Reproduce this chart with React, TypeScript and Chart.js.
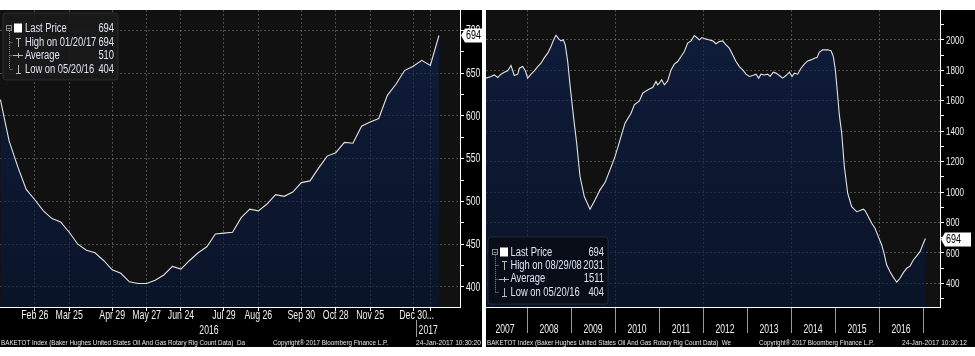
import React, { useEffect, useRef } from "react";
import { Chart, registerables } from "chart.js";

Chart.register(...registerables);

const FONT = '"Liberation Sans", Arial, sans-serif';
const TXT = "#f0f0f0";
const LEGEND_TXT = "#dde4f2";
const GRID = "rgba(150,150,150,0.45)";
const LINE = "#e2e2e2";

// ---------------- Left panel: weekly rig count, last year ----------------
const leftDates = [
  "2016-01-29", "2016-02-05", "2016-02-12", "2016-02-19", "2016-02-26",
  "2016-03-04", "2016-03-11", "2016-03-18", "2016-03-25",
  "2016-04-01", "2016-04-08", "2016-04-15", "2016-04-22", "2016-04-29",
  "2016-05-06", "2016-05-13", "2016-05-20", "2016-05-27",
  "2016-06-03", "2016-06-10", "2016-06-17", "2016-06-24",
  "2016-07-01", "2016-07-08", "2016-07-15", "2016-07-22", "2016-07-29",
  "2016-08-05", "2016-08-12", "2016-08-19", "2016-08-26",
  "2016-09-02", "2016-09-09", "2016-09-16", "2016-09-23", "2016-09-30",
  "2016-10-07", "2016-10-14", "2016-10-21", "2016-10-28",
  "2016-11-04", "2016-11-11", "2016-11-18", "2016-11-25",
  "2016-12-02", "2016-12-09", "2016-12-16", "2016-12-23", "2016-12-30",
  "2017-01-06", "2017-01-13", "2017-01-20",
];
const leftValues = [
  619, 571, 541, 514, 502,
  489, 480, 476, 464,
  450, 443, 440, 431, 420,
  416, 406, 404, 404,
  408, 414, 424, 421,
  431, 440, 447, 462, 463,
  464, 481, 491, 489,
  497, 508, 506, 511, 522,
  524, 539, 553, 557,
  569, 568, 588, 593,
  597, 624, 637, 653, 658,
  665, 659, 694,
];
const leftTickDates = [
  "2016-02-26", "2016-03-25", "2016-04-29", "2016-05-27", "2016-06-24", "2016-07-29",
  "2016-08-26", "2016-09-30", "2016-10-28", "2016-11-25", "2016-12-30", "2017-01-13",
];
const leftTickLabels = [
  "Feb 26", "Mar 25", "Apr 29", "May 27", "Jun 24", "Jul 29",
  "Aug 26", "Sep 30", "Oct 28", "Nov 25", "Dec 30", "...",
];
const leftYTicks = [400, 425, 450, 475, 500, 525, 550, 575, 600, 625, 650, 675, 700];
const leftYLabels = [400, 450, 500, 550, 600, 650, 700];
const leftLegend = [
  ["Last Price", "694"],
  ["High on 01/20/17", "694"],
  ["Average", "510"],
  ["Low on 05/20/16", "404"],
];
const leftFooter = [
  "BAKETOT Index (Baker Hughes United States Oil And Gas Rotary Rig Count Data)  Da",
  "Copyright\u00ae 2017 Bloomberg Finance L.P.",
  "24-Jan-2017 10:30:20",
];

// ---------------- Right panel: 10-year history ----------------
const rightYears = [
  2007.068, 2007.182, 2007.257, 2007.334, 2007.409, 2007.484, 2007.561, 2007.636, 2007.711, 2007.789,
  2007.825, 2007.902, 2007.962, 2008.015, 2008.091, 2008.166, 2008.243, 2008.318, 2008.394, 2008.47,
  2008.545, 2008.606, 2008.659, 2008.72, 2008.773, 2008.825, 2008.87, 2008.925, 2008.977, 2009.052,
  2009.129, 2009.205, 2009.302, 2009.432, 2009.545, 2009.659, 2009.773, 2009.886, 2010.0, 2010.114,
  2010.227, 2010.364, 2010.439, 2010.553, 2010.629, 2010.705, 2010.78, 2010.856, 2010.932, 2010.97,
  2011.007, 2011.061, 2011.121, 2011.197, 2011.273, 2011.348, 2011.424, 2011.5, 2011.576, 2011.652,
  2011.727, 2011.803, 2011.856, 2011.916, 2011.977, 2012.053, 2012.129, 2012.22, 2012.295, 2012.371,
  2012.447, 2012.523, 2012.598, 2012.674, 2012.75, 2012.826, 2012.902, 2012.977, 2013.053, 2013.129,
  2013.205, 2013.265, 2013.318, 2013.394, 2013.47, 2013.523, 2013.598, 2013.659, 2013.735, 2013.811,
  2013.886, 2013.962, 2014.023, 2014.076, 2014.152, 2014.227, 2014.303, 2014.379, 2014.455, 2014.53,
  2014.591, 2014.644, 2014.72, 2014.833, 2014.909, 2014.962, 2015.008, 2015.053, 2015.098, 2015.152,
  2015.212, 2015.288, 2015.379, 2015.492, 2015.568, 2015.644, 2015.682, 2015.758, 2015.834, 2015.909,
  2015.984, 2016.061, 2016.114, 2016.175, 2016.25, 2016.326, 2016.402, 2016.477, 2016.553, 2016.63,
  2016.705, 2016.78, 2016.856, 2016.932, 2017.008, 2017.055,
];
const rightValues = [
  1749, 1760, 1770, 1753, 1775, 1788, 1797, 1832, 1766, 1775,
  1814, 1825, 1797, 1749, 1775, 1797, 1825, 1847, 1884, 1913,
  1957, 2001, 2031, 2007, 1994, 2001, 1968, 1858, 1705, 1507,
  1321, 1102, 970, 887, 948, 1014, 1062, 1146, 1233, 1343,
  1453, 1518, 1573, 1599, 1650, 1665, 1678, 1687, 1727, 1705,
  1716, 1738, 1705, 1731, 1803, 1841, 1858, 1891, 1924, 1979,
  1994, 2029, 2016, 2001, 2016, 2007, 2001, 1994, 1975, 1990,
  1994, 1968, 1946, 1902, 1858, 1825, 1803, 1775, 1760, 1766,
  1775, 1749, 1775, 1770, 1775, 1760, 1788, 1782, 1766, 1749,
  1766, 1788, 1760, 1782, 1775, 1814, 1841, 1862, 1869, 1880,
  1884, 1920, 1935, 1935, 1929, 1891, 1803, 1660, 1507, 1387,
  1168, 992, 904, 871, 878, 887, 878, 838, 795, 762,
  707, 652, 597, 520, 476, 439, 407, 433, 470, 499,
  513, 553, 580, 608, 663, 694,
];
const rightYearLabels = ["2007", "2008", "2009", "2010", "2011", "2012", "2013", "2014", "2015", "2016"];
const rightYTicks = [300, 400, 500, 600, 700, 800, 900, 1000, 1100, 1200, 1300, 1400, 1500, 1600, 1700, 1800, 1900, 2000, 2100];
const rightYLabels = [400, 600, 800, 1000, 1200, 1400, 1600, 1800, 2000];
const rightLegend = [
  ["Last Price", "694"],
  ["High on 08/29/08", "2031"],
  ["Average", "1511"],
  ["Low on 05/20/16", "404"],
];
const rightFooter = [
  "BAKETOT Index (Baker Hughes United States Oil And Gas Rotary Rig Count Data)  We",
  "Copyright\u00ae 2017 Bloomberg Finance L.P.",
  "24-Jan-2017 10:30:12",
];

// ---------------- drawing helpers ----------------
function navyFill(c: any) {
  const { ctx, chartArea } = c.chart;
  if (!chartArea) return "rgba(14,35,82,0.6)";
  const g = ctx.createLinearGradient(0, chartArea.top, 0, chartArea.bottom);
  g.addColorStop(0, "rgba(14,36,84,0.62)");
  g.addColorStop(1, "rgba(6,22,56,0.6)");
  return g;
}

// narrow (horizontally compressed) text, like the terminal font
function drawText(
  ctx: CanvasRenderingContext2D,
  text: string,
  x: number,
  y: number,
  align: CanvasTextAlign,
  sx = 0.8
) {
  ctx.save();
  ctx.translate(x, y);
  ctx.scale(sx, 1);
  ctx.textAlign = align;
  ctx.fillText(text, 0, 0);
  ctx.restore();
}

function fitText(ctx: CanvasRenderingContext2D, text: string, x: number, y: number, w: number) {
  const nat = ctx.measureText(text).width || 1;
  drawText(ctx, text, x, y, "left", w / nat);
}

type LegendBox = {
  x: number; y: number; w: number; h: number; bg: string;
  y0: number; gap: number; sx: number; tx: number; vx: number;
};

function drawLegend(ctx: CanvasRenderingContext2D, rows: string[][], b: LegendBox) {
  ctx.save();
  ctx.fillStyle = b.bg;
  ctx.beginPath();
  (ctx as any).roundRect(b.x, b.y, b.w, b.h, 3);
  ctx.fill();
  ctx.strokeStyle = "rgba(90,90,90,0.35)";
  ctx.lineWidth = 1;
  ctx.stroke();

  const rowY = (i: number) => b.y0 + i * b.gap;
  const sx = b.sx;
  ctx.strokeStyle = "#8a8a8a";
  ctx.lineWidth = 1;
  ctx.strokeRect(sx - 7.5, Math.round(rowY(0)) - 2.5, 5, 5);
  ctx.beginPath();
  ctx.moveTo(sx - 6.5, Math.round(rowY(0)) + 0.5);
  ctx.lineTo(sx - 3.5, Math.round(rowY(0)) + 0.5);
  ctx.stroke();
  ctx.setLineDash([1, 1]);
  ctx.beginPath();
  ctx.moveTo(sx - 4.5, rowY(0) + 3);
  ctx.lineTo(sx - 4.5, rowY(3));
  for (let i = 1; i < 4; i++) {
    ctx.moveTo(sx - 4.5, Math.round(rowY(i)) + 0.5);
    ctx.lineTo(sx - 1, Math.round(rowY(i)) + 0.5);
  }
  ctx.stroke();
  ctx.setLineDash([]);
  ctx.fillStyle = "#ffffff";
  ctx.fillRect(sx, Math.round(rowY(0)) - 4.5, 8, 9);
  ctx.strokeStyle = "#b8b8b8";
  const cx = sx + 4.5;
  let ry = Math.round(rowY(1));
  ctx.beginPath();
  ctx.moveTo(cx, ry - 4); ctx.lineTo(cx, ry + 5);
  ctx.moveTo(cx - 2.5, ry - 3.5); ctx.lineTo(cx + 2.5, ry - 3.5);
  ry = Math.round(rowY(2));
  ctx.moveTo(sx - 1, ry + 0.5); ctx.lineTo(sx + 9, ry + 0.5);
  ctx.moveTo(cx, ry - 2); ctx.lineTo(cx, ry + 3);
  ry = Math.round(rowY(3));
  ctx.moveTo(cx, ry - 4); ctx.lineTo(cx, ry + 4);
  ctx.moveTo(cx - 2.5, ry + 4.5); ctx.lineTo(cx + 2.5, ry + 4.5);
  ctx.stroke();
  ctx.font = `12px ${FONT}`;
  ctx.textBaseline = "middle";
  ctx.fillStyle = LEGEND_TXT;
  rows.forEach((r, i) => {
    drawText(ctx, r[0], b.tx, rowY(i) + 0.5, "left", 0.78);
    drawText(ctx, r[1], b.vx, rowY(i) + 0.5, "right", 0.78);
  });
  ctx.restore();
}

function drawTag(ctx: CanvasRenderingContext2D, text: string, x0: number, x1: number, yc: number) {
  ctx.save();
  ctx.fillStyle = "#ffffff";
  ctx.beginPath();
  ctx.moveTo(x0, yc);
  ctx.lineTo(x0 + 4, yc - 7);
  ctx.lineTo(x1, yc - 7);
  ctx.lineTo(x1, yc + 7);
  ctx.lineTo(x0 + 4, yc + 7);
  ctx.closePath();
  ctx.fill();
  ctx.fillStyle = "#000";
  ctx.font = `12px ${FONT}`;
  ctx.textBaseline = "middle";
  drawText(ctx, text, x0 + 5, yc + 0.5, "left", 0.75);
  ctx.restore();
}

function drawFooter(ctx: CanvasRenderingContext2D, f: string[]) {
  ctx.save();
  ctx.fillStyle = "#e6e6e6";
  ctx.font = `8px ${FONT}`;
  ctx.textBaseline = "middle";
  fitText(ctx, f[0], 1, 333, 244);
  fitText(ctx, f[1], 273, 333, 115);
  fitText(ctx, f[2], 416, 333, 65);
  ctx.restore();
}

function drawYLabels(ctx: CanvasRenderingContext2D, ys: any, a: any, labels: number[], size: number, sx: number) {
  ctx.save();
  ctx.fillStyle = TXT;
  ctx.font = `${size}px ${FONT}`;
  ctx.textBaseline = "middle";
  labels.forEach((v) => {
    drawText(ctx, String(v), a.right + 6, ys.getPixelForValue(v) + 0.5, "left", sx);
  });
  ctx.restore();
}

function makePlugin(kind: "left" | "right") {
  return {
    id: "bbg-" + kind,
    beforeDraw(chart: any) {
      const { ctx, chartArea: a, width, height } = chart;
      ctx.save();
      ctx.fillStyle = "#000";
      ctx.fillRect(0, 0, width, height);
      ctx.fillStyle = "#111111";
      ctx.fillRect(a.left, a.top, a.right - a.left, a.bottom - a.top);
      ctx.restore();
    },
    afterDraw(chart: any) {
      const ctx = chart.ctx as CanvasRenderingContext2D;
      const xs = chart.scales.x;
      const ys = chart.scales.y;
      const a = chart.chartArea;
      const data = chart.data.datasets[0].data;
      const last = data[data.length - 1].y;
      const yc = Math.round(ys.getPixelForValue(last)) + 0.5;
      ctx.save();
      ctx.fillStyle = TXT;
      ctx.font = `12px ${FONT}`;
      ctx.textBaseline = "middle";
      if (kind === "left") {
        drawYLabels(ctx, ys, a, leftYLabels, 12, 0.72);
        // first row of the date axis
        ctx.font = `12.5px ${FONT}`;
        leftTickDates.forEach((d, i) => {
          const idx = leftDates.indexOf(d);
          drawText(ctx, leftTickLabels[i], xs.getPixelForValue(idx), a.bottom + 8.5, "center", 0.7);
        });
        // second row: years
        const bIdx = leftDates.findIndex((d) => d.startsWith("2017"));
        const boundary = bIdx - 0.5;
        const xb = Math.round(xs.getPixelForValue(boundary)) - 0.5;
        ctx.strokeStyle = "#9a9a9a";
        ctx.beginPath();
        ctx.moveTo(xb, a.bottom + 13);
        ctx.lineTo(xb, a.bottom + 30);
        ctx.stroke();
        ctx.font = `12px ${FONT}`;
        drawText(ctx, "2016", xs.getPixelForValue(boundary / 2), a.bottom + 23.5, "center", 0.72);
        drawText(ctx, "2017", xs.getPixelForValue((boundary + leftDates.length - 1) / 2), a.bottom + 23.5, "center", 0.72);
        ctx.restore();
        drawLegend(ctx, leftLegend, { x: 3, y: 3, w: 115, h: 67, bg: "rgba(26,26,26,0.92)", y0: 18, gap: 13.7, sx: 14, tx: 25, vx: 114 });
        drawTag(ctx, String(last), a.right + 1, chart.width, yc);
      } else {
        drawYLabels(ctx, ys, a, rightYLabels, 11.5, 0.7);
        rightYearLabels.forEach((y) => {
          drawText(ctx, y, xs.getPixelForValue(Number(y) + 0.5), a.bottom + 22.5, "center", 0.72);
        });
        ctx.restore();
        drawLegend(ctx, rightLegend, { x: 2, y: 227, w: 120, h: 67, bg: "rgba(8,12,22,0.9)", y0: 241.7, gap: 13.4, sx: 14, tx: 24.5, vx: 118 });
        drawTag(ctx, String(last), a.right + 1, chart.width - 4, yc);
      }
      drawFooter(ctx, kind === "left" ? leftFooter : rightFooter);
    },
  };
}

function leftConfig(): any {
  const tickIdx = leftTickDates.map((d) => leftDates.indexOf(d));
  return {
    type: "line",
    data: {
      datasets: [
        {
          data: leftValues.map((v, i) => ({ x: i, y: v })),
          borderColor: LINE,
          borderWidth: 1.1,
          pointRadius: 0,
          fill: "start",
          backgroundColor: navyFill,
          tension: 0,
        },
      ],
    },
    options: {
      animation: false,
      responsive: false,
      devicePixelRatio: 1,
      events: [],
      layout: { padding: 0 },
      plugins: { legend: { display: false }, tooltip: { enabled: false } },
      scales: {
        x: {
          type: "linear",
          position: "bottom",
          min: -0.05,
          max: 53.45,
          afterBuildTicks: (s: any) => {
            s.ticks = tickIdx.map((v) => ({ value: v }));
          },
          afterFit: (s: any) => {
            s.height = 40;
            s.paddingLeft = 0;
            s.paddingRight = 0;
          },
          ticks: { display: false, autoSkip: false },
          grid: { color: GRID, tickColor: "#ffffff", tickLength: 4, lineWidth: 1 },
          border: { color: "#ffffff", width: 1, dash: [2, 2] },
        },
        y: {
          position: "right",
          min: 376.6,
          max: 723.8,
          afterBuildTicks: (s: any) => {
            s.ticks = leftYTicks.map((v) => ({ value: v }));
          },
          afterFit: (s: any) => {
            s.width = 22;
            s.paddingTop = 0;
            s.paddingBottom = 0;
          },
          ticks: { display: false, autoSkip: false },
          grid: {
            color: (c: any) => (c.tick && leftYLabels.includes(c.tick.value) ? GRID : "transparent"),
            tickColor: "#ffffff",
            tickLength: 4,
          },
          border: { color: "#ffffff", width: 1, dash: [2, 2] },
        },
      },
    },
    plugins: [makePlugin("left")],
  };
}

function rightConfig(): any {
  const boundaries = rightYearLabels.map((y) => Number(y) + 1);
  return {
    type: "line",
    data: {
      datasets: [
        {
          data: rightValues.map((v, i) => ({ x: rightYears[i], y: v })),
          borderColor: LINE,
          borderWidth: 1.1,
          pointRadius: 0,
          fill: "start",
          backgroundColor: navyFill,
          tension: 0,
        },
      ],
    },
    options: {
      animation: false,
      responsive: false,
      devicePixelRatio: 1,
      events: [],
      layout: { padding: 0 },
      plugins: { legend: { display: false }, tooltip: { enabled: false } },
      scales: {
        x: {
          type: "linear",
          position: "bottom",
          min: 2007.068,
          max: 2017.386,
          afterBuildTicks: (s: any) => {
            s.ticks = boundaries.map((v) => ({ value: v }));
          },
          afterFit: (s: any) => {
            s.height = 40;
            s.paddingLeft = 0;
            s.paddingRight = 0;
          },
          ticks: { display: false, autoSkip: false },
          grid: {
            color: (c: any) => (c.tick && c.tick.value % 2 === 0 ? GRID : "transparent"),
            tickColor: "#9a9a9a",
            tickLength: 26,
            lineWidth: 1,
          },
          border: { color: "#ffffff", width: 1, dash: [2, 2] },
        },
        y: {
          position: "right",
          min: 244,
          max: 2197,
          afterBuildTicks: (s: any) => {
            s.ticks = rightYTicks.map((v) => ({ value: v }));
          },
          afterFit: (s: any) => {
            s.width = 35;
            s.paddingTop = 0;
            s.paddingBottom = 0;
          },
          ticks: { display: false, autoSkip: false },
          grid: {
            color: (c: any) => (c.tick && rightYLabels.includes(c.tick.value) ? GRID : "transparent"),
            tickColor: "#ffffff",
            tickLength: 4,
          },
          border: { color: "#ffffff", width: 1, dash: [2, 2] },
        },
      },
    },
    plugins: [makePlugin("right")],
  };
}

export default function App() {
  const leftRef = useRef<HTMLCanvasElement>(null);
  const rightRef = useRef<HTMLCanvasElement>(null);
  useEffect(() => {
    const c1 = new Chart(leftRef.current as HTMLCanvasElement, leftConfig());
    const c2 = new Chart(rightRef.current as HTMLCanvasElement, rightConfig());
    return () => {
      c1.destroy();
      c2.destroy();
    };
  }, []);
  return (
    <div
      style={{
        position: "fixed",
        left: 0,
        top: 0,
        width: 975,
        height: 356,
        background: "#ffffff",
        overflow: "hidden",
      }}
    >
      <canvas
        ref={leftRef}
        width={482}
        height={337}
        style={{ position: "absolute", left: 0, top: 10, width: 482, height: 337 }}
      />
      <canvas
        ref={rightRef}
        width={489}
        height={337}
        style={{ position: "absolute", left: 486, top: 10, width: 489, height: 337 }}
      />
    </div>
  );
}
